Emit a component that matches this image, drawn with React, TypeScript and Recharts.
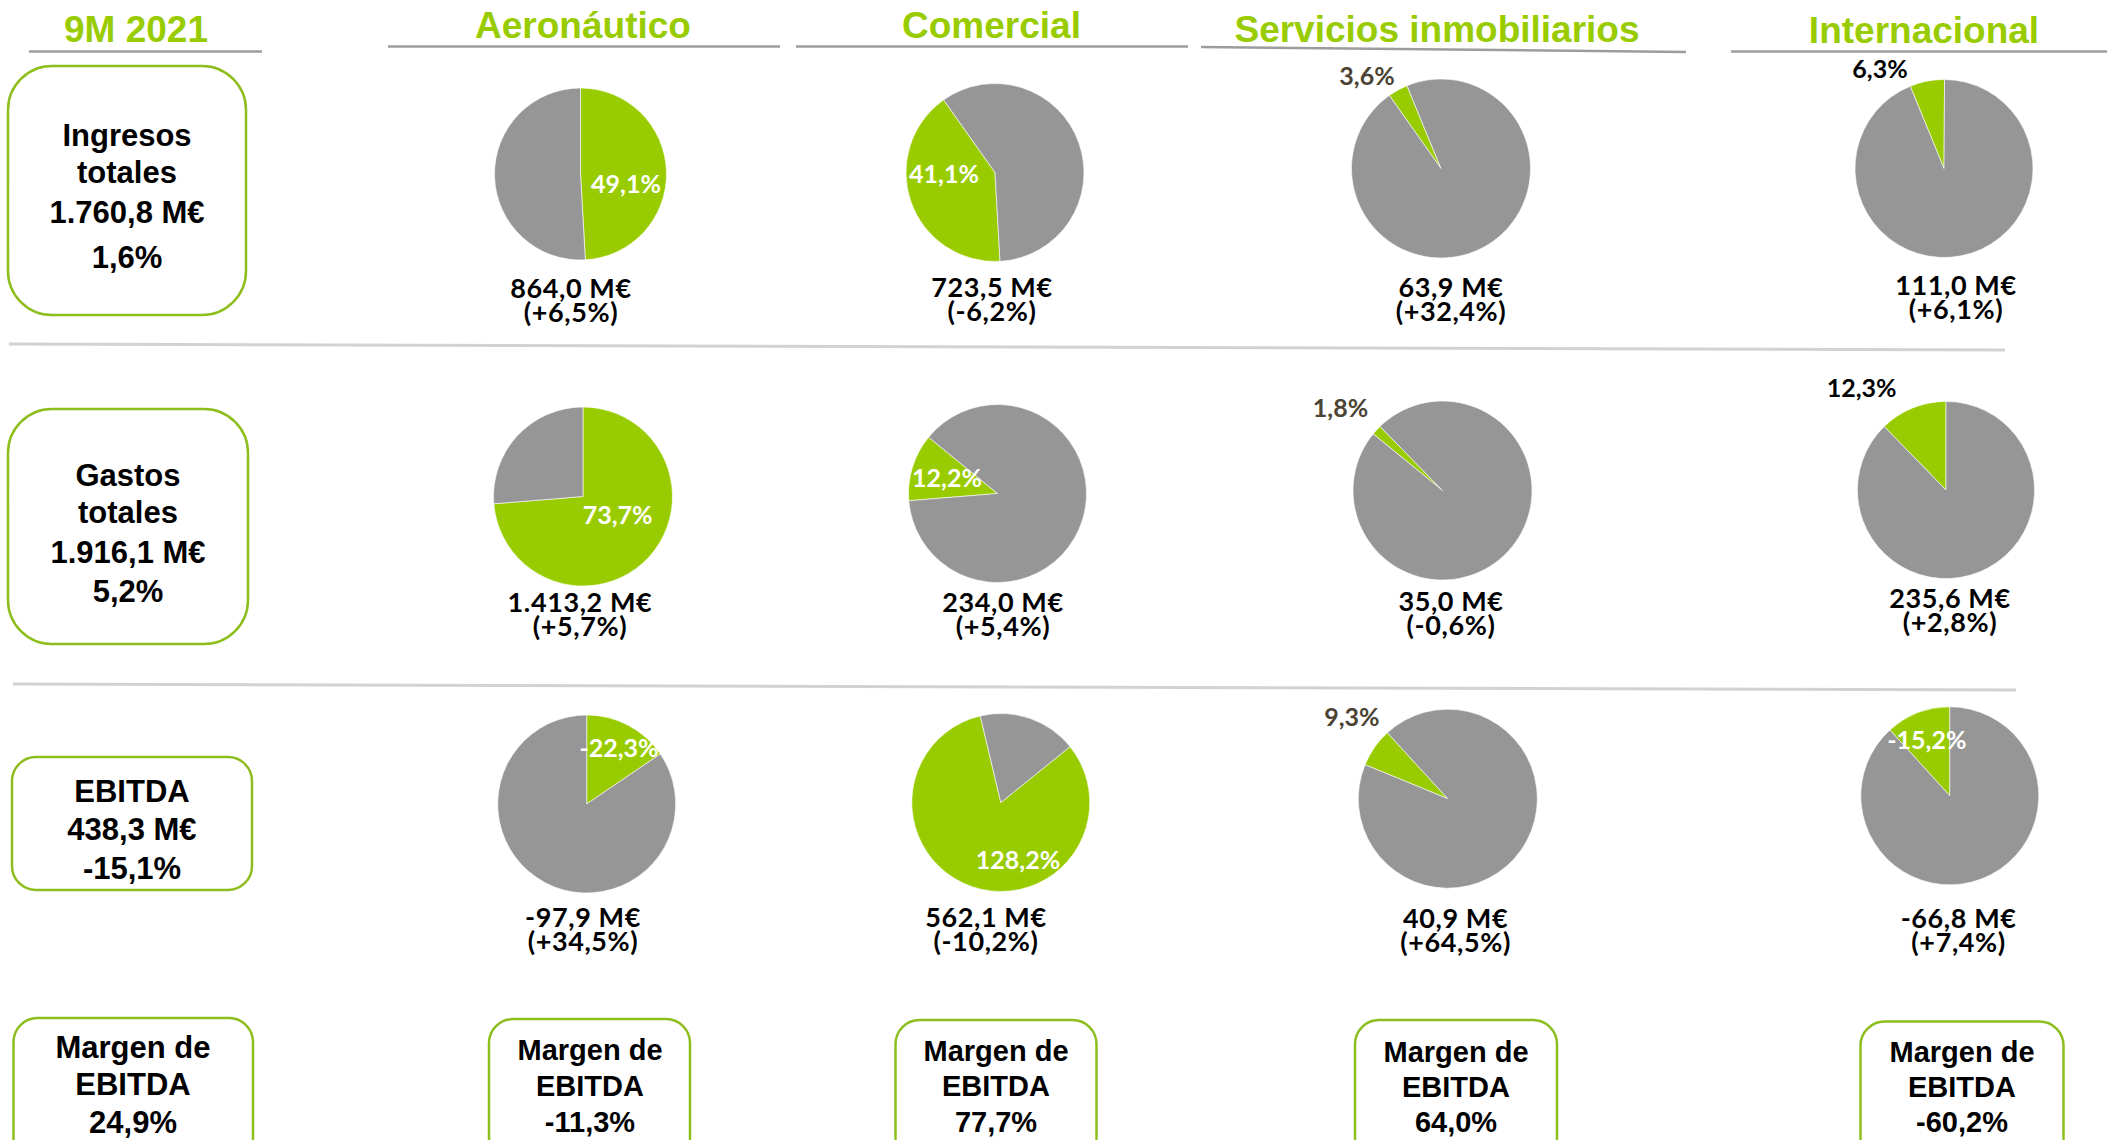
import React from 'react';
import { PieChart, Pie, Cell } from 'recharts';

const SEGMENTS = ['Aeronáutico', 'Comercial', 'Servicios inmobiliarios', 'Internacional'];

// Ingresos / Gastos: share of each segment in the total (%)
const INGRESOS_SHARE = [49.1, 41.1, 3.6, 6.3];
const GASTOS_SHARE = [73.7, 12.2, 1.8, 12.3];

// EBITDA: labels as printed, and the slices as they are drawn (% of the circle)
const EBITDA_LABEL = [-22.3, 128.2, 9.3, -15.2];
const EBITDA_SLICE = [15.5, 82.1, 7.0, 11.75];
const EBITDA_OFFSET = [0, 14.2, 81.2, 88.25];

const INGRESOS_VALUE = ['864,0 M€', '723,5 M€', '63,9 M€', '111,0 M€'];
const INGRESOS_VAR = ['(+6,5%)', '(-6,2%)', '(+32,4%)', '(+6,1%)'];
const GASTOS_VALUE = ['1.413,2 M€', '234,0 M€', '35,0 M€', '235,6 M€'];
const GASTOS_VAR = ['(+5,7%)', '(+5,4%)', '(-0,6%)', '(+2,8%)'];
const EBITDA_VALUE = ['-97,9 M€', '562,1 M€', '40,9 M€', '-66,8 M€'];
const EBITDA_VAR = ['(+34,5%)', '(-10,2%)', '(+64,5%)', '(+7,4%)'];
const MARGEN_SEG = ['-11,3%', '77,7%', '64,0%', '-60,2%'];

const TOTAL_INGRESOS = ['Ingresos', 'totales', '1.760,8 M€', '1,6%'];
const TOTAL_GASTOS = ['Gastos', 'totales', '1.916,1 M€', '5,2%'];
const TOTAL_EBITDA = ['EBITDA', '438,3 M€', '-15,1%'];
const TOTAL_MARGEN = ['Margen de', 'EBITDA', '24,9%'];

const GREEN = '#99CC00';
const GREY = '#969696';
const BORDER = '#8DBE1E';
const BROWN = '#4B4333';

const ARIAL = '"Liberation Sans", Arial, sans-serif';
const CALIBRI = 'Lato, "Open Sans", sans-serif';

const fmt = (v: number) => `${v.toFixed(1).replace('.', ',')}%`;

const cumulative = (arr: number[]) => arr.map((_, i) => arr.slice(0, i).reduce((a, b) => a + b, 0));

// layout per row: pie centres, radii, label offsets from the centre, value text anchors (x, first baseline)
const ROWS = [
  {
    centers: [[580.5, 174], [995, 172.5], [1441, 168.5], [1944, 168.5]],
    radii: [86, 89, 89.5, 89],
    labelOffsets: [[45.5, 18.7], [-51, 10.5], [-74, -83.5], [-64, -90.5]],
    labelColors: ['#fff', '#fff', BROWN, '#000'],
    valueAnchors: [[571, 298], [992, 297], [1451, 297], [1956, 295]],
  },
  {
    centers: [[583, 496.5], [997.5, 493.5], [1442.5, 490.5], [1946, 490]],
    radii: [89.5, 89, 89.5, 88.6],
    labelOffsets: [[34.6, 27.5], [-50.5, -6.5], [-102, -73.5], [-84.4, -93]],
    labelColors: ['#fff', '#fff', BROWN, '#000'],
    valueAnchors: [[580, 612], [1003, 612], [1451, 611], [1950, 608]],
  },
  {
    centers: [[586.7, 804], [1000.8, 802.5], [1447.8, 798.7], [1949.8, 795.8]],
    radii: [89, 89, 89.5, 89],
    labelOffsets: [[32.3, -47], [17.2, 66.5], [-96, -73], [-23, -46.8]],
    labelColors: ['#fff', '#fff', BROWN, '#fff'],
    valueAnchors: [[583, 927], [986, 927], [1455.6, 928], [1958.6, 928]],
  },
];

const rowData = [
  {
    slice: INGRESOS_SHARE,
    offset: cumulative(INGRESOS_SHARE),
    labels: INGRESOS_SHARE.map(fmt),
    values: INGRESOS_VALUE,
    vars: INGRESOS_VAR,
  },
  {
    slice: GASTOS_SHARE,
    offset: cumulative(GASTOS_SHARE),
    labels: GASTOS_SHARE.map(fmt),
    values: GASTOS_VALUE,
    vars: GASTOS_VAR,
  },
  {
    slice: EBITDA_SLICE,
    offset: EBITDA_OFFSET,
    labels: EBITDA_LABEL.map(fmt),
    values: EBITDA_VALUE,
    vars: EBITDA_VAR,
  },
];

const HEADERS = [
  { text: '9M 2021', x: 136, y: 42, line: [29, 51.5, 262, 51.5] },
  { text: SEGMENTS[0], x: 583, y: 38, line: [388, 46.5, 780, 46.5] },
  { text: SEGMENTS[1], x: 991.5, y: 38, line: [796, 46.5, 1188, 46.5] },
  { text: SEGMENTS[2], x: 1437, y: 42, line: [1201, 47, 1686, 52] },
  { text: SEGMENTS[3], x: 1924, y: 43, line: [1731, 51.5, 2107, 51.5] },
];

const BOXES = [
  { x: 8, y: 66, w: 238, h: 249, r: 44, cx: 127, lines: TOTAL_INGRESOS, ys: [146, 183, 223, 268], size: 31 },
  { x: 8, y: 409, w: 240, h: 235, r: 44, cx: 128, lines: TOTAL_GASTOS, ys: [486, 523, 563, 602], size: 31 },
  { x: 12, y: 757, w: 240, h: 133, r: 24, cx: 132, lines: TOTAL_EBITDA, ys: [802, 840, 879], size: 31 },
  { x: 13.5, y: 1018, w: 239.5, h: 170, r: 24, cx: 133, lines: TOTAL_MARGEN, ys: [1058, 1095, 1133], size: 31 },
  ...MARGEN_SEG.map((m, i) => {
    const pos = [
      [489, 1019, 201, 590],
      [895.5, 1020, 201, 996],
      [1355, 1020, 202, 1456],
      [1860.5, 1021.5, 203, 1962],
    ][i];
    return {
      x: pos[0], y: pos[1], w: pos[2], h: 170, r: 24, cx: pos[3],
      lines: ['Margen de', 'EBITDA', m],
      ys: [1060 + i * 0.8, 1096 + i * 0.3, 1132],
      size: 29,
    };
  }),
];

const VALUE_FONT = 27;
const VALUE_LINE = 24;
// distance from the top of a line box to its baseline for Lato (ascent 0.987, content 1.2em)
const baselineShift = (VALUE_LINE - VALUE_FONT * 1.2) / 2 + VALUE_FONT * 0.987;

const App: React.FC = () => {
  return (
    <div style={{ position: 'absolute', left: 0, top: 0, width: 2107, height: 1140, overflow: 'hidden', background: '#fff' }}>
      <PieChart width={2107} height={1140} margin={{ top: 0, right: 0, bottom: 0, left: 0 }}>
        {ROWS.map((row, r) =>
          SEGMENTS.map((seg, s) => {
            const d = rowData[r];
            const share = d.slice[s];
            const start = 90 - d.offset[s] * 3.6;
            const data = [
              { name: seg, value: share },
              { name: 'Resto', value: 100 - share },
            ];
            const [cx, cy] = row.centers[s];
            const [ox, oy] = row.labelOffsets[s];
            return (
              <Pie
                key={`pie-${r}-${s}`}
                data={data}
                dataKey="value"
                cx={cx}
                cy={cy}
                outerRadius={row.radii[s]}
                innerRadius={0}
                startAngle={start}
                endAngle={start - 360}
                isAnimationActive={false}
                labelLine={false}
                stroke="#ffffff"
                strokeWidth={0.6}
                label={({ index }: { index: number }) =>
                  index === 0 ? (
                    <text
                      x={cx + ox}
                      y={cy + oy}
                      textAnchor="middle"
                      fill={row.labelColors[s]}
                      fontFamily={CALIBRI}
                      fontWeight={700}
                      fontSize={25}
                    >
                      {d.labels[s]}
                    </text>
                  ) : null
                }
              >
                <Cell fill={GREEN} />
                <Cell fill={GREY} />
              </Pie>
            );
          })
        )}
      </PieChart>

      <svg
        width={2107}
        height={1140}
        style={{ position: 'absolute', left: 0, top: 0, pointerEvents: 'none' }}
      >
        {HEADERS.map((h) => (
          <g key={h.text}>
            <text x={h.x} y={h.y} textAnchor="middle" fill={GREEN} fontFamily={ARIAL} fontWeight={700} fontSize={37}>
              {h.text}
            </text>
            <line x1={h.line[0]} y1={h.line[1]} x2={h.line[2]} y2={h.line[3]} stroke="#9C9C9C" strokeWidth={2.5} />
          </g>
        ))}

        <line x1={9} y1={344} x2={2005} y2={350} stroke="#D2D2D2" strokeWidth={3} />
        <line x1={13} y1={684} x2={2016} y2={690} stroke="#D2D2D2" strokeWidth={3} />

        {BOXES.map((b, i) => (
          <g key={`box-${i}`}>
            <rect x={b.x} y={b.y} width={b.w} height={b.h} rx={b.r} ry={b.r} fill="none" stroke={BORDER} strokeWidth={2.5} />
            {b.lines.map((t, j) => (
              <text key={j} x={b.cx} y={b.ys[j]} textAnchor="middle" fill="#000" fontFamily={ARIAL} fontWeight={700} fontSize={b.size}>
                {t}
              </text>
            ))}
          </g>
        ))}
      </svg>

      {ROWS.map((row, r) =>
        row.valueAnchors.map(([x, y], s) => (
          <div
            key={`val-${r}-${s}`}
            style={{
              position: 'absolute',
              left: x - 110,
              top: y - baselineShift,
              width: 220,
              textAlign: 'center',
              fontFamily: CALIBRI,
              fontWeight: 700,
              fontSize: VALUE_FONT,
              lineHeight: `${VALUE_LINE}px`,
              letterSpacing: 0.6,
              color: '#000',
              whiteSpace: 'pre',
            }}
          >
            {`${rowData[r].values[s]}\n${rowData[r].vars[s]}`}
          </div>
        ))
      )}
    </div>
  );
};

export default App;
